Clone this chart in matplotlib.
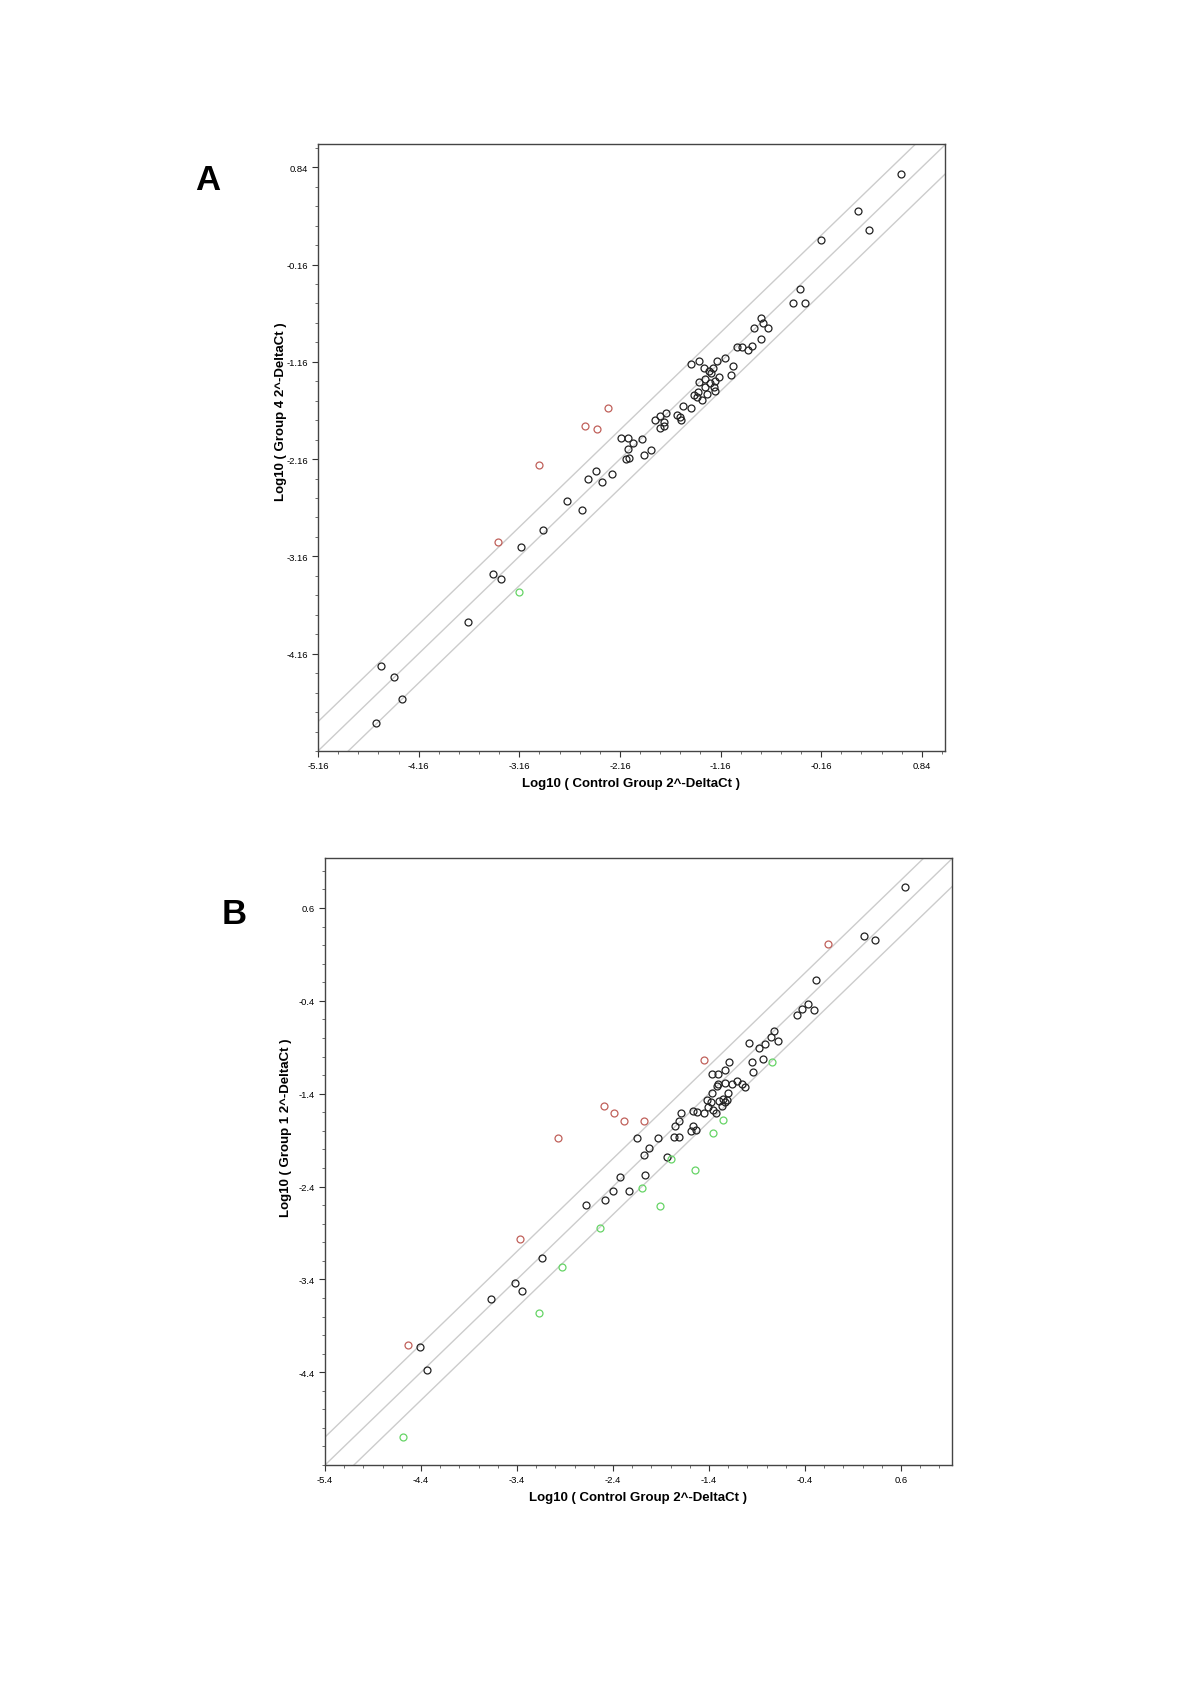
import numpy as np
import matplotlib
matplotlib.use("Agg")
import matplotlib.pyplot as plt
from matplotlib.ticker import FixedLocator

plt.rcParams['font.family'] = ['Liberation Sans', 'DejaVu Sans']

# ---- panel A : Group 4 vs Control ----
a_black_x = [0.628, 0.206, 0.314, -0.162, -0.371, -0.438, -0.321, -0.760, -0.735, -0.684,
             -0.831, -0.760, -0.843, -0.994, -0.952, -0.889, -1.111, -1.035, -1.056, -1.458,
             -1.370, -1.194, -1.320, -1.270, -1.240, -1.253, -1.311, -1.370, -1.173, -1.211,
             -1.265, -1.311, -1.228, -1.219, -1.299, -1.382, -1.424, -1.395, -1.340, -1.449,
             -1.537, -1.591, -1.566, -1.554, -1.700, -1.763, -1.721, -1.809, -1.763, -1.721,
             -2.151, -2.084, -2.034, -2.076, -1.938, -2.097, -2.072, -1.917, -1.850, -2.398,
             -2.477, -2.339, -2.243, -2.682, -2.536, -2.924, -3.142, -3.417, -3.346, -3.672,
             -4.533, -4.404, -4.328, -4.583]
a_black_y = [0.775, 0.391, 0.192, 0.097, -0.416, -0.559, -0.559, -0.710, -0.758, -0.809,
             -0.809, -0.930, -0.995, -1.008, -1.008, -1.043, -1.125, -1.207, -1.297, -1.185,
             -1.155, -1.155, -1.228, -1.250, -1.220, -1.276, -1.336, -1.371, -1.319, -1.358,
             -1.379, -1.423, -1.423, -1.457, -1.487, -1.466, -1.496, -1.526, -1.548, -1.630,
             -1.617, -1.703, -1.725, -1.759, -1.682, -1.720, -1.777, -1.759, -1.841, -1.824,
             -1.945, -1.945, -1.993, -2.053, -1.954, -2.157, -2.148, -2.118, -2.066, -2.277,
             -2.368, -2.398, -2.308, -2.593, -2.683, -2.886, -3.068, -3.340, -3.391, -3.832,
             -4.290, -4.402, -4.626, -4.877]
a_red_x = [-2.281, -2.506, -2.389, -2.966, -3.367]
a_red_y = [-1.638, -1.820, -1.850, -2.217, -3.007]
a_green_x = [-3.163]
a_green_y = [-3.530]
a_ticks = [-5.16, -4.16, -3.16, -2.16, -1.16, -0.16, 0.84]
a_ylabel = "Log10 ( Group 4 2^-DeltaCt )"

# ---- panel B : Group 1 vs Control ----
b_black_x = [0.640, 0.215, 0.324, -0.281, -0.365, -0.435, -0.479, -0.312, -0.725, -0.756,
             -0.677, -0.822, -0.883, -0.984, -0.953, -0.839, -0.944, -1.190, -1.230, -1.366,
             -1.304, -1.238, -1.304, -1.313, -1.107, -1.159, -1.054, -1.023, -1.199, -1.366,
             -1.418, -1.296, -1.256, -1.216, -1.234, -1.383, -1.409, -1.361, -1.326, -1.449,
             -1.563, -1.528, -1.269, -1.691, -1.717, -1.756, -1.572, -1.537, -1.585, -1.761,
             -1.713, -1.932, -2.152, -2.024, -2.077, -1.840, -2.064, -2.332, -2.397, -2.230,
             -2.481, -2.683, -3.139, -3.416, -3.350, -3.670, -4.412, -4.333]
b_black_y = [0.828, 0.302, 0.251, -0.177, -0.429, -0.485, -0.550, -0.503, -0.727, -0.787,
             -0.834, -0.866, -0.908, -0.857, -1.057, -1.025, -1.164, -1.057, -1.150, -1.183,
             -1.183, -1.285, -1.299, -1.318, -1.262, -1.299, -1.295, -1.323, -1.388, -1.397,
             -1.472, -1.481, -1.458, -1.467, -1.495, -1.495, -1.546, -1.574, -1.607, -1.607,
             -1.588, -1.597, -1.537, -1.607, -1.690, -1.746, -1.746, -1.788, -1.807, -1.863,
             -1.872, -1.877, -1.877, -1.988, -2.063, -2.077, -2.277, -2.300, -2.449, -2.449,
             -2.542, -2.594, -3.171, -3.436, -3.529, -3.613, -4.125, -4.377]
b_red_x = [-0.159, -1.449, -2.498, -2.389, -2.283, -2.073, -2.972, -3.367, -4.535]
b_red_y = [0.214, -1.039, -1.537, -1.607, -1.695, -1.695, -1.877, -2.966, -4.111]
b_green_x = [-0.747, -1.252, -1.361, -1.796, -1.550, -2.094, -1.910, -2.533, -2.928, -3.170, -4.583]
b_green_y = [-1.057, -1.686, -1.821, -2.109, -2.226, -2.417, -2.608, -2.850, -3.264, -3.767, -5.098]
b_ticks = [-5.4, -4.4, -3.4, -2.4, -1.4, -0.4, 0.6]
b_ylabel = "Log10 ( Group 1 2^-DeltaCt )"

xlabel = "Log10 ( Control Group 2^-DeltaCt )"
fold = np.log10(2)


def draw_panel(ax, bx, by, rx, ry, gx, gy, ticks, xlim, ylim, ylab, lab_x, lab_y):
    lo, hi = min(xlim[0], ylim[0]) - 1, max(xlim[1], ylim[1]) + 1
    line = np.array([lo, hi])
    for off in (-fold, 0, fold):
        ax.plot(line, line + off, color='#cccccc', lw=1.0, zorder=1)
    kw = dict(ls='none', marker='o', ms=5.0, mfc='none', mew=0.9, zorder=3)
    ax.plot(bx, by, mec='#222222', **kw)
    ax.plot(rx, ry, mec='#c0605a', **kw)
    ax.plot(gx, gy, mec='#66d466', **kw)
    ax.set_xlim(*xlim)
    ax.set_ylim(*ylim)
    # the lowest value is only labelled on the x axis
    ax.xaxis.set_major_locator(FixedLocator(ticks))
    ax.yaxis.set_major_locator(FixedLocator(ticks[1:]))
    ax.set_xticklabels([f"{t:g}" for t in ticks])
    ax.set_yticklabels([f"{t:g}" for t in ticks[1:]])
    ax.xaxis.set_minor_locator(FixedLocator(np.arange(ticks[0], xlim[1], 0.2)))
    ax.yaxis.set_minor_locator(FixedLocator(np.arange(ticks[0], ylim[1], 0.2)))
    ax.tick_params(which='major', direction='out', length=4, width=0.8,
                   labelsize=6.8, color='#333333', pad=3)
    ax.tick_params(which='minor', direction='out', length=2.5, width=0.6, color='#555555')
    for s in ax.spines.values():
        s.set_color('#444444')
        s.set_linewidth(1.0)
    ax.set_xlabel(xlabel, fontsize=9.5, fontweight='bold', labelpad=5)
    ax.set_ylabel(ylab, fontsize=9.5, fontweight='bold')
    ax.yaxis.set_label_coords(lab_x, lab_y)


fig = plt.figure(figsize=(12, 16.99), dpi=100)

ax_a = fig.add_axes([0.265, 0.5574, 0.5225, 0.3573])
draw_panel(ax_a, a_black_x, a_black_y, a_red_x, a_red_y, a_green_x, a_green_y,
           a_ticks, (-5.16, 1.07), (-5.16, 1.08), a_ylabel, -0.05, 0.56)

ax_b = fig.add_axes([0.2708, 0.1371, 0.5225, 0.3573])
draw_panel(ax_b, b_black_x, b_black_y, b_red_x, b_red_y, b_green_x, b_green_y,
           b_ticks, (-5.4, 1.13), (-5.4, 1.138), b_ylabel, -0.053, 0.558)

fig.text(0.173, 0.894, "A", fontsize=25, fontweight='bold', ha='center', va='center')
fig.text(0.195, 0.462, "B", fontsize=25, fontweight='bold', ha='center', va='center')

fig.savefig("out.png", dpi=100, facecolor='white')
